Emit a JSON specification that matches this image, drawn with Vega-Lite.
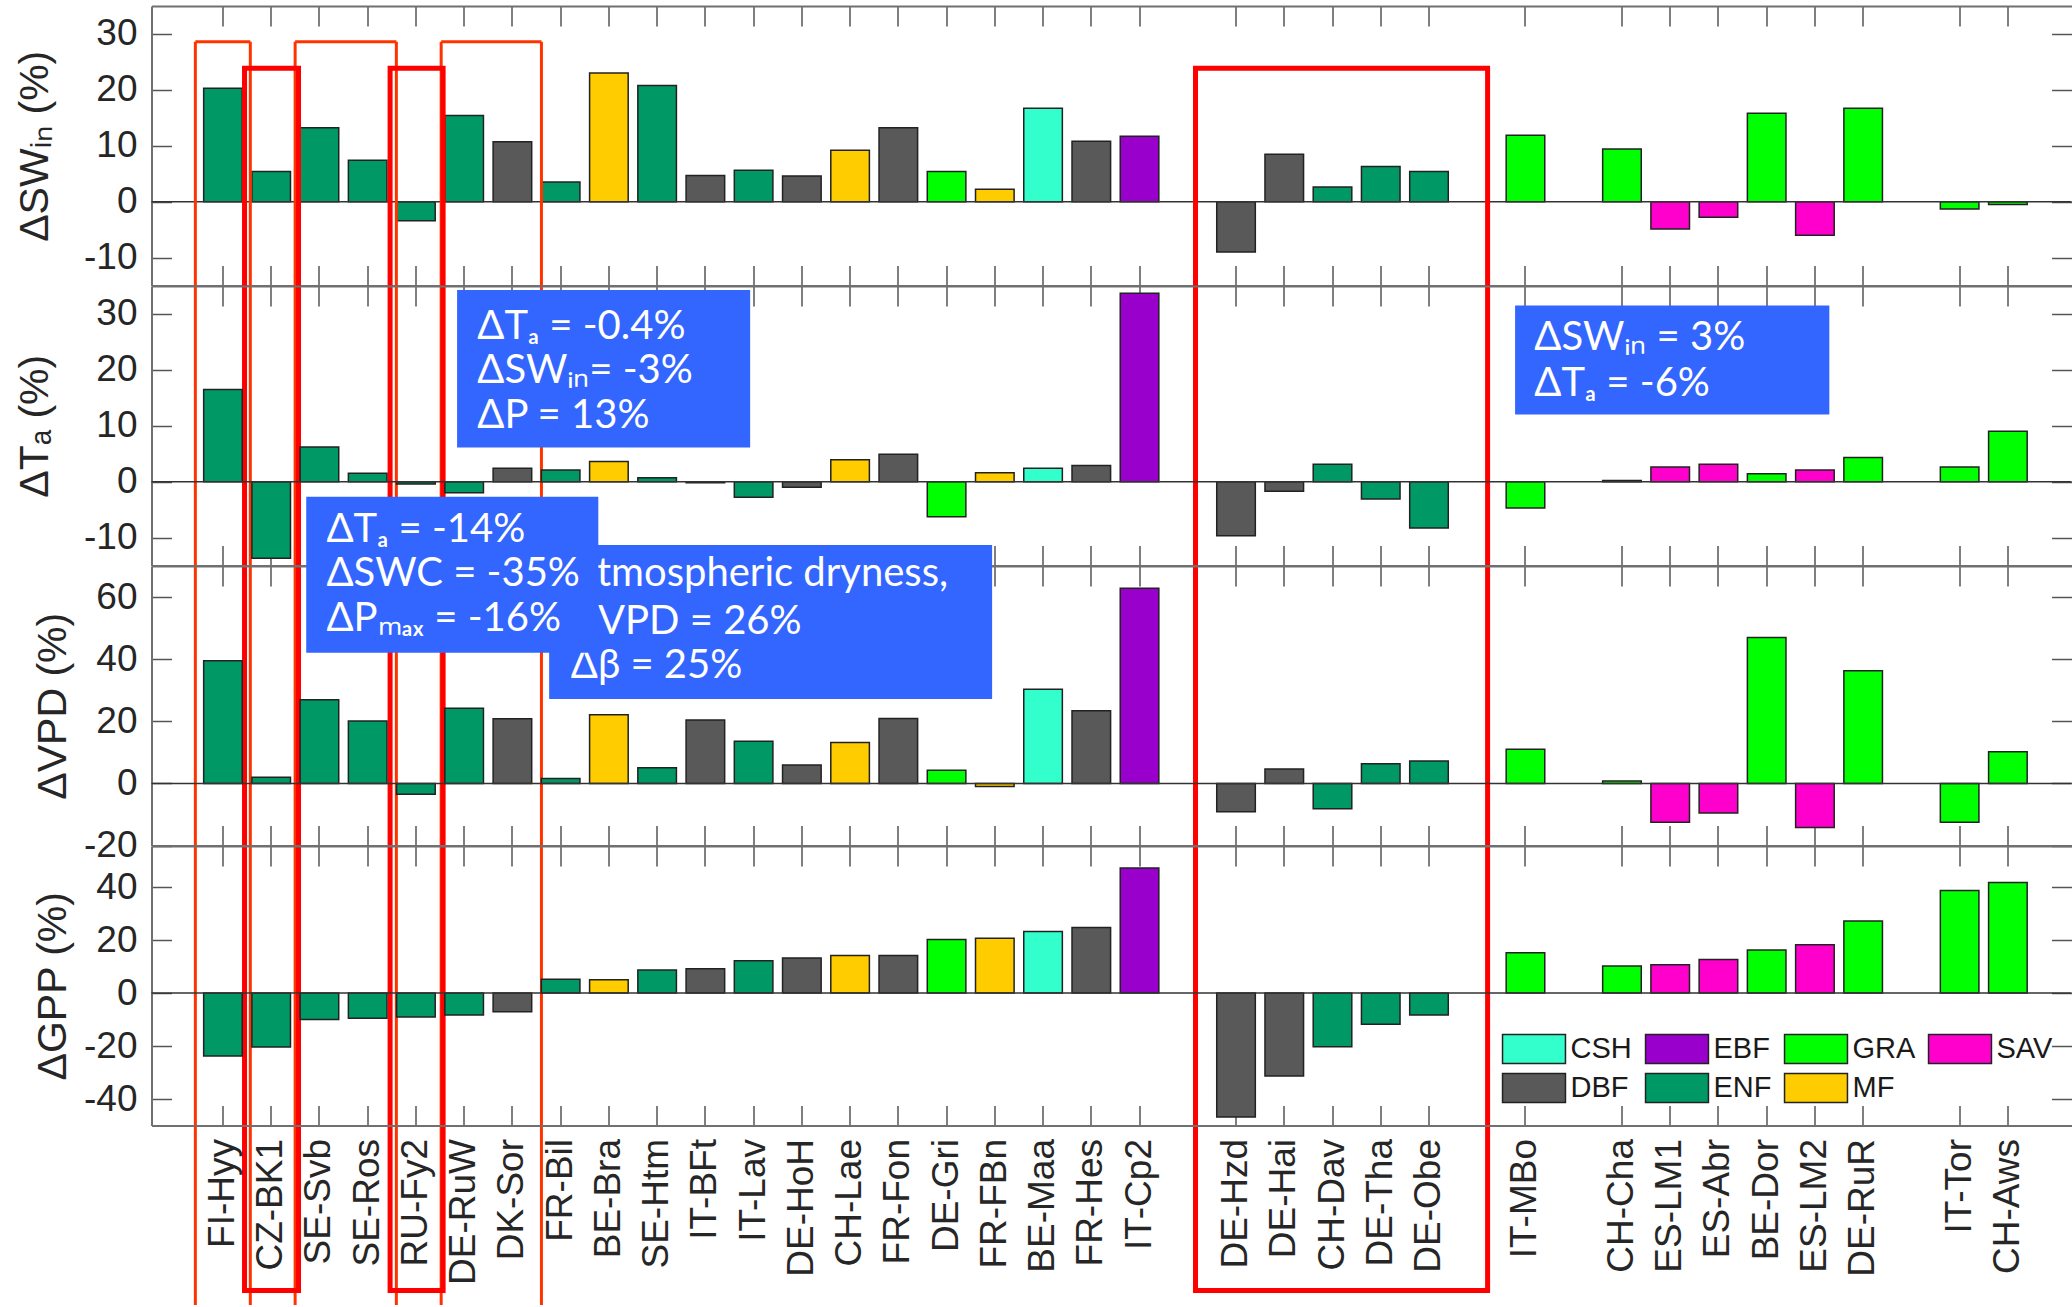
{
  "$schema": "https://vega.github.io/schema/vega-lite/v6.json",
  "background": "white",
  "padding": {"left": 14.5, "top": 5, "right": 0, "bottom": 0},
  "spacing": 0,
  "bounds": "flush",
  "resolve": {"scale": {"color": "independent"}, "legend": {"color": "independent"}},
  "config": {
    "view": {"stroke": null},
    "font": "Liberation Sans",
    "axis": {
      "domainColor": "#707070", "domainWidth": 2,
      "tickColor": "#555555", "tickWidth": 1.5, "tickSize": -20,
      "grid": false,
      "labelFont": "Liberation Sans", "labelFontSize": 37, "labelColor": "#262626",
      "titleFont": "Liberation Sans", "titleFontSize": 41, "titleFontWeight": "normal", "titleColor": "#262626"
    }
  },
  "datasets": {
    "sites": [
      {"site": "FI-Hyy", "pft": "ENF", "SWin": 20.3, "Ta": 16.5, "VPD": 39.5, "GPP": -23.8},
      {"site": "CZ-BK1", "pft": "ENF", "SWin": 5.4, "Ta": -13.7, "VPD": 2.0, "GPP": -20.4},
      {"site": "SE-Svb", "pft": "ENF", "SWin": 13.2, "Ta": 6.2, "VPD": 26.9, "GPP": -10.0},
      {"site": "SE-Ros", "pft": "ENF", "SWin": 7.4, "Ta": 1.5, "VPD": 20.1, "GPP": -9.5},
      {"site": "RU-Fy2", "pft": "ENF", "SWin": -3.4, "Ta": -0.4, "VPD": -3.5, "GPP": -9.0},
      {"site": "DE-RuW", "pft": "ENF", "SWin": 15.4, "Ta": -2.0, "VPD": 24.2, "GPP": -8.3},
      {"site": "DK-Sor", "pft": "DBF", "SWin": 10.7, "Ta": 2.4, "VPD": 20.8, "GPP": -7.1},
      {"site": "FR-Bil", "pft": "ENF", "SWin": 3.5, "Ta": 2.1, "VPD": 1.6, "GPP": 5.2},
      {"site": "BE-Bra", "pft": "MF", "SWin": 23.0, "Ta": 3.6, "VPD": 22.1, "GPP": 5.0},
      {"site": "SE-Htm", "pft": "ENF", "SWin": 20.8, "Ta": 0.7, "VPD": 5.0, "GPP": 8.7},
      {"site": "IT-BFt", "pft": "DBF", "SWin": 4.7, "Ta": -0.2, "VPD": 20.4, "GPP": 9.2},
      {"site": "IT-Lav", "pft": "ENF", "SWin": 5.6, "Ta": -2.8, "VPD": 13.6, "GPP": 12.2},
      {"site": "DE-HoH", "pft": "DBF", "SWin": 4.6, "Ta": -1.0, "VPD": 5.9, "GPP": 13.2},
      {"site": "CH-Lae", "pft": "MF", "SWin": 9.2, "Ta": 3.9, "VPD": 13.2, "GPP": 14.2},
      {"site": "FR-Fon", "pft": "DBF", "SWin": 13.2, "Ta": 4.9, "VPD": 20.9, "GPP": 14.2},
      {"site": "DE-Gri", "pft": "GRA", "SWin": 5.4, "Ta": -6.3, "VPD": 4.2, "GPP": 20.2},
      {"site": "FR-FBn", "pft": "MF", "SWin": 2.2, "Ta": 1.6, "VPD": -1.0, "GPP": 20.7},
      {"site": "BE-Maa", "pft": "CSH", "SWin": 16.7, "Ta": 2.4, "VPD": 30.3, "GPP": 23.2},
      {"site": "FR-Hes", "pft": "DBF", "SWin": 10.8, "Ta": 2.9, "VPD": 23.4, "GPP": 24.7},
      {"site": "IT-Cp2", "pft": "EBF", "SWin": 11.7, "Ta": 33.7, "VPD": 62.8, "GPP": 47.2},
      {"site": "DE-Hzd", "pft": "DBF", "SWin": -9.0, "Ta": -9.7, "VPD": -9.1, "GPP": -46.8},
      {"site": "DE-Hai", "pft": "DBF", "SWin": 8.5, "Ta": -1.7, "VPD": 4.6, "GPP": -31.3},
      {"site": "CH-Dav", "pft": "ENF", "SWin": 2.6, "Ta": 3.1, "VPD": -8.2, "GPP": -20.3},
      {"site": "DE-Tha", "pft": "ENF", "SWin": 6.3, "Ta": -3.1, "VPD": 6.3, "GPP": -11.8},
      {"site": "DE-Obe", "pft": "ENF", "SWin": 5.4, "Ta": -8.3, "VPD": 7.2, "GPP": -8.3},
      {"site": "IT-MBo", "pft": "GRA", "SWin": 11.9, "Ta": -4.7, "VPD": 11.0, "GPP": 15.2},
      {"site": "CH-Cha", "pft": "GRA", "SWin": 9.4, "Ta": 0.2, "VPD": 0.8, "GPP": 10.2},
      {"site": "ES-LM1", "pft": "SAV", "SWin": -4.9, "Ta": 2.6, "VPD": -12.5, "GPP": 10.7},
      {"site": "ES-Abr", "pft": "SAV", "SWin": -2.8, "Ta": 3.1, "VPD": -9.5, "GPP": 12.7},
      {"site": "BE-Dor", "pft": "GRA", "SWin": 15.8, "Ta": 1.4, "VPD": 47.0, "GPP": 16.2},
      {"site": "ES-LM2", "pft": "SAV", "SWin": -6.0, "Ta": 2.1, "VPD": -14.2, "GPP": 18.2},
      {"site": "DE-RuR", "pft": "GRA", "SWin": 16.7, "Ta": 4.3, "VPD": 36.3, "GPP": 27.2},
      {"site": "IT-Tor", "pft": "GRA", "SWin": -1.3, "Ta": 2.6, "VPD": -12.5, "GPP": 38.7},
      {"site": "CH-Aws", "pft": "GRA", "SWin": -0.5, "Ta": 9.0, "VPD": 10.2, "GPP": 41.7}
    ],
    "redthin": [
      {"xa": -0.59, "xb": 0.55, "top": 28.6, "bottom": -197.4},
      {"xa": 1.48, "xb": 3.58, "top": 28.6, "bottom": -197.4},
      {"xa": 4.51, "xb": 6.59, "top": 28.6, "bottom": -197.4}
    ],
    "redthick": [
      {"xa": 0.43, "xb": 1.55, "top": 23.86, "bottom": -194.8},
      {"xa": 3.45, "xb": 4.55, "top": 23.86, "bottom": -194.8},
      {"xa": 20.16, "xb": 26.22, "top": 23.86, "bottom": -194.8}
    ],
    "boxes": [
      {"p": 2, "z": 1, "x1": 4.84, "x2": 10.92, "y1": 34.3, "y2": 6.1},
      {"p": 2, "z": 1, "x1": 26.79, "x2": 33.31, "y1": 31.5, "y2": 12.0},
      {"p": 3, "z": 1, "x1": 6.75, "x2": 15.94, "y1": 76.77, "y2": 27.18},
      {"p": 3, "z": 2, "x1": 1.71, "x2": 7.77, "y1": 92.3, "y2": 42.09}
    ],
    "notes": [
      {"p": 2, "z": 1, "x": 5.26, "y": 25.55, "t": "ΔTₐ = -0.4%"},
      {"p": 2, "z": 1, "x": 5.26, "y": 17.61, "t": "ΔSWᵢₙ= -3%"},
      {"p": 2, "z": 1, "x": 5.26, "y": 9.63, "t": "ΔP = 13%"},
      {"p": 2, "z": 1, "x": 27.19, "y": 23.5, "t": "ΔSWᵢₙ = 3%"},
      {"p": 2, "z": 1, "x": 27.19, "y": 15.4, "t": "ΔTₐ = -6%"},
      {"p": 3, "z": 1, "x": 7.2, "y": 63.56, "t": "Atmospheric dryness,"},
      {"p": 3, "z": 1, "x": 7.2, "y": 48.2, "t": "ΔVPD = 26%"},
      {"p": 3, "z": 1, "x": 7.2, "y": 33.94, "t": "Δβ = 25%"},
      {"p": 3, "z": 2, "x": 2.13, "y": 77.83, "t": "ΔTₐ = -14%"},
      {"p": 3, "z": 2, "x": 2.13, "y": 63.56, "t": "ΔSWC = -35%"},
      {"p": 3, "z": 2, "x": 2.13, "y": 49.07, "t": "ΔPₘₐₓ = -16%"}
    ]
  },
  "vconcat": [
    {
      "width": 1920, "height": 279.5,
      "resolve": {"scale": {"x": "independent"}, "axis": {"x": "independent", "y": "independent"}},
      "layer": [
        {
          "data": {"name": "sites"},
          "mark": {"type": "bar", "stroke": "#222222", "strokeWidth": 1.5},
          "encoding": {
            "x": {"field": "site", "type": "nominal", "sort": null,
              "scale": {"type": "band", "domain": ["FI-Hyy","CZ-BK1","SE-Svb","SE-Ros","RU-Fy2","DE-RuW","DK-Sor","FR-Bil","BE-Bra","SE-Htm","IT-BFt","IT-Lav","DE-HoH","CH-Lae","FR-Fon","DE-Gri","FR-FBn","BE-Maa","FR-Hes","IT-Cp2","_g1","DE-Hzd","DE-Hai","CH-Dav","DE-Tha","DE-Obe","_g2","IT-MBo","_g3","CH-Cha","ES-LM1","ES-Abr","BE-Dor","ES-LM2","DE-RuR","_g4","IT-Tor","CH-Aws"], "paddingInner": 0.2, "paddingOuter": 1.017, "align": 0.5406},
              "axis": {"orient": "bottom", "labels": false, "title": null, "values": ["FI-Hyy","CZ-BK1","SE-Svb","SE-Ros","RU-Fy2","DE-RuW","DK-Sor","FR-Bil","BE-Bra","SE-Htm","IT-BFt","IT-Lav","DE-HoH","CH-Lae","FR-Fon","DE-Gri","FR-FBn","BE-Maa","FR-Hes","IT-Cp2","DE-Hzd","DE-Hai","CH-Dav","DE-Tha","DE-Obe","IT-MBo","CH-Cha","ES-LM1","ES-Abr","BE-Dor","ES-LM2","DE-RuR","IT-Tor","CH-Aws"]}},
            "y": {"field": "SWin", "type": "quantitative", "scale": {"domain": [-15, 35], "nice": false},
              "axis": {"orient": "left", "title": "ΔSWᵢₙ (%)", "values": [-10, 0, 10, 20, 30], "labelExpr": "'' + datum.value", "labelPadding": 34.5, "titlePadding": 27}},
            "color": {"field": "pft", "type": "nominal",
              "scale": {"domain": ["CSH","EBF","GRA","SAV","DBF","ENF","MF"], "range": ["#33ffcc","#9900cc","#00ff00","#ff00cc","#595959","#009966","#ffcc00"]},
              "legend": null}
          }
        },
        {
          "data": {"values": [{}]},
          "mark": {"type": "rule", "color": "#333333", "strokeWidth": 1.5},
          "encoding": {
            "y": {"datum": 0, "type": "quantitative", "scale": {"domain": [-15, 35], "nice": false},
              "axis": {"orient": "right", "labels": false, "title": null, "domain": false, "values": [-10, 0, 10, 20, 30]}}
          }
        },
        {
          "data": {"name": "sites"},
          "mark": {"type": "point", "opacity": 0},
          "encoding": {
            "x": {"field": "site", "type": "nominal", "sort": null,
              "scale": {"type": "band", "domain": ["FI-Hyy","CZ-BK1","SE-Svb","SE-Ros","RU-Fy2","DE-RuW","DK-Sor","FR-Bil","BE-Bra","SE-Htm","IT-BFt","IT-Lav","DE-HoH","CH-Lae","FR-Fon","DE-Gri","FR-FBn","BE-Maa","FR-Hes","IT-Cp2","_g1","DE-Hzd","DE-Hai","CH-Dav","DE-Tha","DE-Obe","_g2","IT-MBo","_g3","CH-Cha","ES-LM1","ES-Abr","BE-Dor","ES-LM2","DE-RuR","_g4","IT-Tor","CH-Aws"], "paddingInner": 0.2, "paddingOuter": 1.017, "align": 0.5406},
              "axis": {"orient": "top", "labels": false, "title": null, "values": ["FI-Hyy","CZ-BK1","SE-Svb","SE-Ros","RU-Fy2","DE-RuW","DK-Sor","FR-Bil","BE-Bra","SE-Htm","IT-BFt","IT-Lav","DE-HoH","CH-Lae","FR-Fon","DE-Gri","FR-FBn","BE-Maa","FR-Hes","IT-Cp2","DE-Hzd","DE-Hai","CH-Dav","DE-Tha","DE-Obe","IT-MBo","CH-Cha","ES-LM1","ES-Abr","BE-Dor","ES-LM2","DE-RuR","IT-Tor","CH-Aws"]}}
          }
        },
        {
          "data": {"name": "redthin"},
          "mark": {"type": "rule", "color": "#ff3300", "strokeWidth": 3},
          "encoding": {
            "x": {"field": "xa", "type": "quantitative", "scale": {"domain": [-1.5, 38.334], "nice": false, "zero": false}, "axis": null},
            "x2": {"field": "xb"},
            "y": {"field": "top", "type": "quantitative", "scale": {"domain": [-15, 35], "nice": false}, "axis": null}
          }
        },
        {
          "data": {"name": "redthin"},
          "transform": [{"fold": ["xa", "xb"], "as": ["side", "xv"]}],
          "mark": {"type": "rule", "color": "#ff3300", "strokeWidth": 3},
          "encoding": {
            "x": {"field": "xv", "type": "quantitative", "scale": {"domain": [-1.5, 38.334], "nice": false, "zero": false}, "axis": null},
            "y": {"field": "top", "type": "quantitative", "scale": {"domain": [-15, 35], "nice": false}, "axis": null},
            "y2": {"field": "bottom"}
          }
        },
        {
          "data": {"name": "redthick"},
          "mark": {"type": "rect", "fill": null, "fillOpacity": 0, "stroke": "#ff0000", "strokeWidth": 5},
          "encoding": {
            "x": {"field": "xa", "type": "quantitative", "scale": {"domain": [-1.5, 38.334], "nice": false, "zero": false}, "axis": null},
            "x2": {"field": "xb"},
            "y": {"field": "top", "type": "quantitative", "scale": {"domain": [-15, 35], "nice": false}, "axis": null},
            "y2": {"field": "bottom"}
          }
        }
      ]
    },
    {
      "width": 1920, "height": 279.5,
      "resolve": {"scale": {"x": "independent"}, "axis": {"x": "independent", "y": "independent"}},
      "layer": [
        {
          "data": {"name": "sites"},
          "mark": {"type": "bar", "stroke": "#222222", "strokeWidth": 1.5},
          "encoding": {
            "x": {"field": "site", "type": "nominal", "sort": null,
              "scale": {"type": "band", "domain": ["FI-Hyy","CZ-BK1","SE-Svb","SE-Ros","RU-Fy2","DE-RuW","DK-Sor","FR-Bil","BE-Bra","SE-Htm","IT-BFt","IT-Lav","DE-HoH","CH-Lae","FR-Fon","DE-Gri","FR-FBn","BE-Maa","FR-Hes","IT-Cp2","_g1","DE-Hzd","DE-Hai","CH-Dav","DE-Tha","DE-Obe","_g2","IT-MBo","_g3","CH-Cha","ES-LM1","ES-Abr","BE-Dor","ES-LM2","DE-RuR","_g4","IT-Tor","CH-Aws"], "paddingInner": 0.2, "paddingOuter": 1.017, "align": 0.5406},
              "axis": {"orient": "bottom", "labels": false, "title": null, "values": ["FI-Hyy","CZ-BK1","SE-Svb","SE-Ros","RU-Fy2","DE-RuW","DK-Sor","FR-Bil","BE-Bra","SE-Htm","IT-BFt","IT-Lav","DE-HoH","CH-Lae","FR-Fon","DE-Gri","FR-FBn","BE-Maa","FR-Hes","IT-Cp2","DE-Hzd","DE-Hai","CH-Dav","DE-Tha","DE-Obe","IT-MBo","CH-Cha","ES-LM1","ES-Abr","BE-Dor","ES-LM2","DE-RuR","IT-Tor","CH-Aws"]}},
            "y": {"field": "Ta", "type": "quantitative", "scale": {"domain": [-15, 35], "nice": false},
              "axis": {"orient": "left", "title": "ΔTₐ (%)", "values": [-10, 0, 10, 20, 30], "labelExpr": "'' + datum.value", "labelPadding": 34.5, "titlePadding": 27}},
            "color": {"field": "pft", "type": "nominal",
              "scale": {"domain": ["CSH","EBF","GRA","SAV","DBF","ENF","MF"], "range": ["#33ffcc","#9900cc","#00ff00","#ff00cc","#595959","#009966","#ffcc00"]},
              "legend": null}
          }
        },
        {
          "data": {"values": [{}]},
          "mark": {"type": "rule", "color": "#333333", "strokeWidth": 1.5},
          "encoding": {
            "y": {"datum": 0, "type": "quantitative", "scale": {"domain": [-15, 35], "nice": false},
              "axis": {"orient": "right", "labels": false, "title": null, "domain": false, "values": [-10, 0, 10, 20, 30]}}
          }
        },
        {
          "data": {"name": "sites"},
          "mark": {"type": "point", "opacity": 0},
          "encoding": {
            "x": {"field": "site", "type": "nominal", "sort": null,
              "scale": {"type": "band", "domain": ["FI-Hyy","CZ-BK1","SE-Svb","SE-Ros","RU-Fy2","DE-RuW","DK-Sor","FR-Bil","BE-Bra","SE-Htm","IT-BFt","IT-Lav","DE-HoH","CH-Lae","FR-Fon","DE-Gri","FR-FBn","BE-Maa","FR-Hes","IT-Cp2","_g1","DE-Hzd","DE-Hai","CH-Dav","DE-Tha","DE-Obe","_g2","IT-MBo","_g3","CH-Cha","ES-LM1","ES-Abr","BE-Dor","ES-LM2","DE-RuR","_g4","IT-Tor","CH-Aws"], "paddingInner": 0.2, "paddingOuter": 1.017, "align": 0.5406},
              "axis": {"orient": "top", "labels": false, "title": null, "values": ["FI-Hyy","CZ-BK1","SE-Svb","SE-Ros","RU-Fy2","DE-RuW","DK-Sor","FR-Bil","BE-Bra","SE-Htm","IT-BFt","IT-Lav","DE-HoH","CH-Lae","FR-Fon","DE-Gri","FR-FBn","BE-Maa","FR-Hes","IT-Cp2","DE-Hzd","DE-Hai","CH-Dav","DE-Tha","DE-Obe","IT-MBo","CH-Cha","ES-LM1","ES-Abr","BE-Dor","ES-LM2","DE-RuR","IT-Tor","CH-Aws"]}}
          }
        },
        {
          "data": {"name": "boxes"},
          "transform": [{"filter": "datum.p == 2"}],
          "mark": {"type": "rect", "color": "#3366ff", "opacity": 1},
          "encoding": {
            "x": {"field": "x1", "type": "quantitative", "scale": {"domain": [-1.5, 38.334], "nice": false, "zero": false}, "axis": null},
            "x2": {"field": "x2"},
            "y": {"field": "y1", "type": "quantitative", "scale": {"domain": [-15, 35], "nice": false}, "axis": null},
            "y2": {"field": "y2"}
          }
        },
        {
          "data": {"name": "notes"},
          "transform": [{"filter": "datum.p == 2"}],
          "mark": {"type": "text", "font": "Lato", "fontSize": 40, "color": "white", "align": "left", "baseline": "alphabetic"},
          "encoding": {
            "x": {"field": "x", "type": "quantitative", "scale": {"domain": [-1.5, 38.334], "nice": false, "zero": false}, "axis": null},
            "y": {"field": "y", "type": "quantitative", "scale": {"domain": [-15, 35], "nice": false}, "axis": null},
            "text": {"field": "t"}
          }
        }
      ]
    },
    {
      "width": 1920, "height": 279.5,
      "resolve": {"scale": {"x": "independent"}, "axis": {"x": "independent", "y": "independent"}},
      "layer": [
        {
          "data": {"name": "sites"},
          "mark": {"type": "bar", "stroke": "#222222", "strokeWidth": 1.5},
          "encoding": {
            "x": {"field": "site", "type": "nominal", "sort": null,
              "scale": {"type": "band", "domain": ["FI-Hyy","CZ-BK1","SE-Svb","SE-Ros","RU-Fy2","DE-RuW","DK-Sor","FR-Bil","BE-Bra","SE-Htm","IT-BFt","IT-Lav","DE-HoH","CH-Lae","FR-Fon","DE-Gri","FR-FBn","BE-Maa","FR-Hes","IT-Cp2","_g1","DE-Hzd","DE-Hai","CH-Dav","DE-Tha","DE-Obe","_g2","IT-MBo","_g3","CH-Cha","ES-LM1","ES-Abr","BE-Dor","ES-LM2","DE-RuR","_g4","IT-Tor","CH-Aws"], "paddingInner": 0.2, "paddingOuter": 1.017, "align": 0.5406},
              "axis": {"orient": "bottom", "labels": false, "title": null, "values": ["FI-Hyy","CZ-BK1","SE-Svb","SE-Ros","RU-Fy2","DE-RuW","DK-Sor","FR-Bil","BE-Bra","SE-Htm","IT-BFt","IT-Lav","DE-HoH","CH-Lae","FR-Fon","DE-Gri","FR-FBn","BE-Maa","FR-Hes","IT-Cp2","DE-Hzd","DE-Hai","CH-Dav","DE-Tha","DE-Obe","IT-MBo","CH-Cha","ES-LM1","ES-Abr","BE-Dor","ES-LM2","DE-RuR","IT-Tor","CH-Aws"]}},
            "y": {"field": "VPD", "type": "quantitative", "scale": {"domain": [-20, 70], "nice": false},
              "axis": {"orient": "left", "title": "ΔVPD (%)", "values": [-20, 0, 20, 40, 60], "labelExpr": "'' + datum.value", "labelPadding": 34.5, "titlePadding": 9}},
            "color": {"field": "pft", "type": "nominal",
              "scale": {"domain": ["CSH","EBF","GRA","SAV","DBF","ENF","MF"], "range": ["#33ffcc","#9900cc","#00ff00","#ff00cc","#595959","#009966","#ffcc00"]},
              "legend": null}
          }
        },
        {
          "data": {"values": [{}]},
          "mark": {"type": "rule", "color": "#333333", "strokeWidth": 1.5},
          "encoding": {
            "y": {"datum": 0, "type": "quantitative", "scale": {"domain": [-20, 70], "nice": false},
              "axis": {"orient": "right", "labels": false, "title": null, "domain": false, "values": [-20, 0, 20, 40, 60]}}
          }
        },
        {
          "data": {"name": "sites"},
          "mark": {"type": "point", "opacity": 0},
          "encoding": {
            "x": {"field": "site", "type": "nominal", "sort": null,
              "scale": {"type": "band", "domain": ["FI-Hyy","CZ-BK1","SE-Svb","SE-Ros","RU-Fy2","DE-RuW","DK-Sor","FR-Bil","BE-Bra","SE-Htm","IT-BFt","IT-Lav","DE-HoH","CH-Lae","FR-Fon","DE-Gri","FR-FBn","BE-Maa","FR-Hes","IT-Cp2","_g1","DE-Hzd","DE-Hai","CH-Dav","DE-Tha","DE-Obe","_g2","IT-MBo","_g3","CH-Cha","ES-LM1","ES-Abr","BE-Dor","ES-LM2","DE-RuR","_g4","IT-Tor","CH-Aws"], "paddingInner": 0.2, "paddingOuter": 1.017, "align": 0.5406},
              "axis": {"orient": "top", "labels": false, "title": null, "values": ["FI-Hyy","CZ-BK1","SE-Svb","SE-Ros","RU-Fy2","DE-RuW","DK-Sor","FR-Bil","BE-Bra","SE-Htm","IT-BFt","IT-Lav","DE-HoH","CH-Lae","FR-Fon","DE-Gri","FR-FBn","BE-Maa","FR-Hes","IT-Cp2","DE-Hzd","DE-Hai","CH-Dav","DE-Tha","DE-Obe","IT-MBo","CH-Cha","ES-LM1","ES-Abr","BE-Dor","ES-LM2","DE-RuR","IT-Tor","CH-Aws"]}}
          }
        },
        {
          "data": {"name": "boxes"},
          "transform": [{"filter": "datum.p == 3 && datum.z == 1"}],
          "mark": {"type": "rect", "color": "#3366ff", "opacity": 1},
          "encoding": {
            "x": {"field": "x1", "type": "quantitative", "scale": {"domain": [-1.5, 38.334], "nice": false, "zero": false}, "axis": null},
            "x2": {"field": "x2"},
            "y": {"field": "y1", "type": "quantitative", "scale": {"domain": [-20, 70], "nice": false}, "axis": null},
            "y2": {"field": "y2"}
          }
        },
        {
          "data": {"name": "notes"},
          "transform": [{"filter": "datum.p == 3 && datum.z == 1"}],
          "mark": {"type": "text", "font": "Lato", "fontSize": 40, "color": "white", "align": "left", "baseline": "alphabetic"},
          "encoding": {
            "x": {"field": "x", "type": "quantitative", "scale": {"domain": [-1.5, 38.334], "nice": false, "zero": false}, "axis": null},
            "y": {"field": "y", "type": "quantitative", "scale": {"domain": [-20, 70], "nice": false}, "axis": null},
            "text": {"field": "t"}
          }
        },
        {
          "data": {"name": "boxes"},
          "transform": [{"filter": "datum.p == 3 && datum.z == 2"}],
          "mark": {"type": "rect", "color": "#3366ff", "opacity": 1},
          "encoding": {
            "x": {"field": "x1", "type": "quantitative", "scale": {"domain": [-1.5, 38.334], "nice": false, "zero": false}, "axis": null},
            "x2": {"field": "x2"},
            "y": {"field": "y1", "type": "quantitative", "scale": {"domain": [-20, 70], "nice": false}, "axis": null},
            "y2": {"field": "y2"}
          }
        },
        {
          "data": {"name": "notes"},
          "transform": [{"filter": "datum.p == 3 && datum.z == 2"}],
          "mark": {"type": "text", "font": "Lato", "fontSize": 40, "color": "white", "align": "left", "baseline": "alphabetic"},
          "encoding": {
            "x": {"field": "x", "type": "quantitative", "scale": {"domain": [-1.5, 38.334], "nice": false, "zero": false}, "axis": null},
            "y": {"field": "y", "type": "quantitative", "scale": {"domain": [-20, 70], "nice": false}, "axis": null},
            "text": {"field": "t"}
          }
        }
      ]
    },
    {
      "width": 1920, "height": 279.5,
      "resolve": {"scale": {"x": "independent"}, "axis": {"x": "independent", "y": "independent"}},
      "layer": [
        {
          "data": {"name": "sites"},
          "mark": {"type": "bar", "stroke": "#222222", "strokeWidth": 1.5},
          "encoding": {
            "x": {"field": "site", "type": "nominal", "sort": null,
              "scale": {"type": "band", "domain": ["FI-Hyy","CZ-BK1","SE-Svb","SE-Ros","RU-Fy2","DE-RuW","DK-Sor","FR-Bil","BE-Bra","SE-Htm","IT-BFt","IT-Lav","DE-HoH","CH-Lae","FR-Fon","DE-Gri","FR-FBn","BE-Maa","FR-Hes","IT-Cp2","_g1","DE-Hzd","DE-Hai","CH-Dav","DE-Tha","DE-Obe","_g2","IT-MBo","_g3","CH-Cha","ES-LM1","ES-Abr","BE-Dor","ES-LM2","DE-RuR","_g4","IT-Tor","CH-Aws"], "paddingInner": 0.2, "paddingOuter": 1.017, "align": 0.5406},
              "axis": {"orient": "bottom", "title": null, "labelAngle": -90, "labelPadding": 33, "labelLimit": 400, "values": ["FI-Hyy","CZ-BK1","SE-Svb","SE-Ros","RU-Fy2","DE-RuW","DK-Sor","FR-Bil","BE-Bra","SE-Htm","IT-BFt","IT-Lav","DE-HoH","CH-Lae","FR-Fon","DE-Gri","FR-FBn","BE-Maa","FR-Hes","IT-Cp2","DE-Hzd","DE-Hai","CH-Dav","DE-Tha","DE-Obe","IT-MBo","CH-Cha","ES-LM1","ES-Abr","BE-Dor","ES-LM2","DE-RuR","IT-Tor","CH-Aws"]}},
            "y": {"field": "GPP", "type": "quantitative", "scale": {"domain": [-50, 55.5], "nice": false},
              "axis": {"orient": "left", "title": "ΔGPP (%)", "values": [-40, -20, 0, 20, 40], "labelExpr": "'' + datum.value", "labelPadding": 34.5, "titlePadding": 9}},
            "color": {"field": "pft", "type": "nominal",
              "scale": {"domain": ["CSH","EBF","GRA","SAV","DBF","ENF","MF"], "range": ["#33ffcc","#9900cc","#00ff00","#ff00cc","#595959","#009966","#ffcc00"]},
              "legend": {"orient": "none", "legendX": 1367, "legendY": 187.5, "columns": 4, "direction": "horizontal", "title": null,
                "symbolType": "M-2.17,-1H2.17V1H-2.17Z", "symbolSize": 841, "symbolStrokeColor": "#222222", "symbolStrokeWidth": 1.5, "symbolOpacity": 1,
                "labelFont": "Liberation Sans", "labelFontSize": 29, "labelColor": "#1a1a1a", "labelOffset": 21,
                "columnPadding": 10, "rowPadding": 4, "padding": 0}}
          }
        },
        {
          "data": {"values": [{}]},
          "mark": {"type": "rule", "color": "#333333", "strokeWidth": 1.5},
          "encoding": {
            "y": {"datum": 0, "type": "quantitative", "scale": {"domain": [-50, 55.5], "nice": false},
              "axis": {"orient": "right", "labels": false, "title": null, "domain": false, "values": [-40, -20, 0, 20, 40]}}
          }
        },
        {
          "data": {"name": "sites"},
          "mark": {"type": "point", "opacity": 0},
          "encoding": {
            "x": {"field": "site", "type": "nominal", "sort": null,
              "scale": {"type": "band", "domain": ["FI-Hyy","CZ-BK1","SE-Svb","SE-Ros","RU-Fy2","DE-RuW","DK-Sor","FR-Bil","BE-Bra","SE-Htm","IT-BFt","IT-Lav","DE-HoH","CH-Lae","FR-Fon","DE-Gri","FR-FBn","BE-Maa","FR-Hes","IT-Cp2","_g1","DE-Hzd","DE-Hai","CH-Dav","DE-Tha","DE-Obe","_g2","IT-MBo","_g3","CH-Cha","ES-LM1","ES-Abr","BE-Dor","ES-LM2","DE-RuR","_g4","IT-Tor","CH-Aws"], "paddingInner": 0.2, "paddingOuter": 1.017, "align": 0.5406},
              "axis": {"orient": "top", "labels": false, "title": null, "values": ["FI-Hyy","CZ-BK1","SE-Svb","SE-Ros","RU-Fy2","DE-RuW","DK-Sor","FR-Bil","BE-Bra","SE-Htm","IT-BFt","IT-Lav","DE-HoH","CH-Lae","FR-Fon","DE-Gri","FR-FBn","BE-Maa","FR-Hes","IT-Cp2","DE-Hzd","DE-Hai","CH-Dav","DE-Tha","DE-Obe","IT-MBo","CH-Cha","ES-LM1","ES-Abr","BE-Dor","ES-LM2","DE-RuR","IT-Tor","CH-Aws"]}}
          }
        }
      ]
    }
  ]
}
